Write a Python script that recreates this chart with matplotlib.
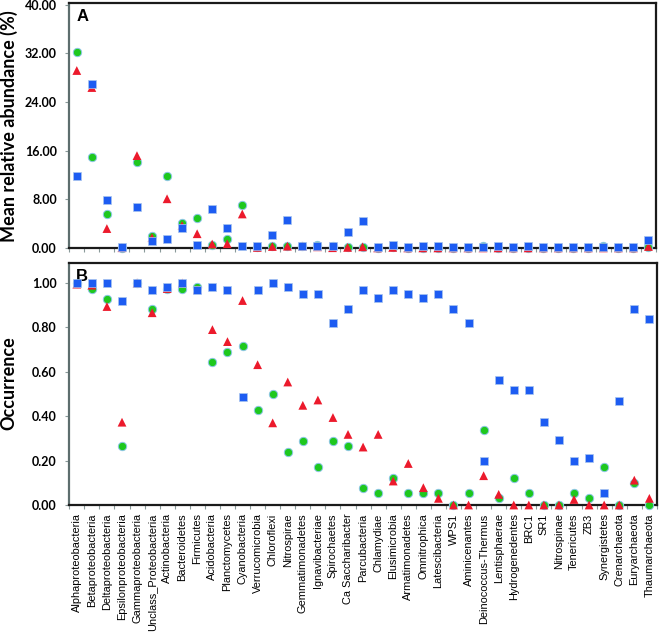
import numpy as np
import matplotlib.pyplot as plt
from matplotlib.ticker import FixedLocator

# 분류군 이름 (x축)
taxa = ["Alphaproteobacteria", "Betaproteobacteria", "Deltaproteobacteria",
        "Epsilonproteobacteria", "Gammaproteobacteria", "Unclass_Proteobacteria",
        "Actinobacteria", "Bacteroidetes", "Firmicutes", "Acidobacteria",
        "Planctomycetes", "Cyanobacteria", "Verrucomicrobia", "Chloroflexi",
        "Nitrospirae", "Gemmatimonadetes", "Ignavibacteriae", "Spirochaetes",
        "Ca Saccharibacter", "Parcubacteria", "Chlamydiae", "Elusimicrobia",
        "Armatimonadetes", "Omnitrophica", "Latescibacteria", "WPS1",
        "Aminicenantes", "Deinococcus-Thermus", "Lentisphaerae", "Hydrogenedentes",
        "BRC1", "SR1", "Nitrospinae", "Tenericutes", "ZB3", "Synergistetes",
        "Crenarchaeota", "Euryarchaeota", "Thaumarchaeota"]

# A: 평균 상대 풍부도 (%)
abund_green = [32.3, 15.0, 5.6, 0.05, 14.1, 1.9, 11.9, 4.1, 4.9, 0.5,
               1.4, 7.1, 0.1, 0.3, 0.3, 0.3, 0.5, 0.4, 0.2, 0.1,
               0.05, 0.1, 0.05, 0.05, 0.05, 0.05, 0.05, 0.3, 0.05, 0.05,
               0.05, 0.05, 0.05, 0.05, 0.05, 0.3, 0.05, 0.05, 0.1]
abund_red = [29.2, 26.4, 3.2, 0.05, 15.2, 1.7, 8.1, 3.7, 2.35, 0.65,
             0.7, 5.6, 0.1, 0.25, 0.3, 0.3, 0.2, 0.05, 0.1, 0.2,
             0.02, 0.1, 0.02, 0.02, 0.02, 0.02, 0.02, 0.02, 0.02, 0.02,
             0.02, 0.02, 0.02, 0.02, 0.02, 0.02, 0.02, 0.02, 0.25]
abund_blue = [11.8, 27.0, 7.9, 0.15, 6.7, 1.15, 1.5, 3.3, 0.45, 6.4,
              3.3, 0.3, 0.3, 2.2, 4.65, 0.3, 0.3, 0.3, 2.6, 4.5,
              0.15, 0.45, 0.15, 0.25, 0.25, 0.15, 0.15, 0.15, 0.3, 0.15,
              0.25, 0.15, 0.15, 0.15, 0.15, 0.15, 0.15, 0.15, 1.35]

# B: 출현 빈도
occ_green = [1.0, 0.973, 0.929, 0.265, 1.0, 0.882, 0.975, 0.973, 0.98, 0.643,
             0.69, 0.715, 0.43, 0.502, 0.24, 0.29, 0.17, 0.29, 0.265, 0.075,
             0.052, 0.123, 0.052, 0.052, 0.052, 0.0, 0.052, 0.336, 0.03, 0.123,
             0.052, 0.0, 0.0, 0.052, 0.03, 0.17, 0.0, 0.10, 0.0]
occ_red = [0.995, 0.99, 0.894, 0.373, 1.0, 0.866, 0.975, 1.0, 0.97, 0.79,
           0.736, 0.921, 0.632, 0.37, 0.554, 0.449, 0.473, 0.394, 0.318, 0.261,
           0.318, 0.108, 0.187, 0.078, 0.03, 0.0, 0.0, 0.132, 0.048, 0.0,
           0.0, 0.0, 0.0, 0.025, 0.0, 0.0, 0.0, 0.112, 0.03]
occ_blue = [1.0, 1.0, 1.0, 0.918, 1.0, 0.967, 0.982, 1.0, 0.967, 0.982,
            0.967, 0.485, 0.967, 1.0, 0.982, 0.951, 0.951, 0.822, 0.885, 0.967,
            0.934, 0.967, 0.951, 0.934, 0.951, 0.885, 0.822, 0.197, 0.564, 0.517,
            0.517, 0.373, 0.291, 0.197, 0.212, 0.052, 0.469, 0.885, 0.839]

x = np.arange(len(taxa))

green = '#1ec81e'
red = '#ec1a2c'
blue = '#1d5cf2'

fig = plt.figure(figsize=(6.61, 6.33), dpi=100)
axA = fig.add_axes([0.1048, 0.6082, 0.8876, 0.387])
axB = fig.add_axes([0.1048, 0.2022, 0.8890, 0.3823])


def draw(ax, g, r, b):
    ax.scatter(x, g, marker='o', s=36, color=green, edgecolors='#8ec6e6',
               linewidths=0.7, zorder=3, clip_on=False)
    ax.scatter(x, r, marker='^', s=40, color=red, edgecolors='none',
               zorder=4, clip_on=False)
    ax.scatter(x, b, marker='s', s=26, color=blue, edgecolors='#a9c4ee',
               linewidths=0.5, zorder=5, clip_on=False)
    ax.set_xlim(-0.5, len(taxa) - 0.5)
    ax.xaxis.set_major_locator(FixedLocator(x))
    ax.xaxis.set_minor_locator(FixedLocator(np.arange(len(taxa) + 1) - 0.5))
    ax.tick_params(axis='x', which='major', length=0)
    ax.tick_params(axis='x', which='minor', length=3, color='#8a9a9a', width=0.8)
    ax.tick_params(axis='y', length=3, color='#8a9a9a', width=0.8, pad=6)
    for side in ['top', 'right', 'bottom']:
        ax.spines[side].set_linewidth(1.6)
        ax.spines[side].set_color('#1a1a1a')
    ax.spines['left'].set_linewidth(1.6)
    ax.spines['left'].set_color('#5d6e6e')
    for lab in ax.get_yticklabels():
        lab.set_fontfamily('Lato')
        lab.set_fontweight('bold')
        lab.set_fontsize(9)


# 패널 A
axA.set_ylim(0, 40.3)
axA.set_yticks([0, 8, 16, 24, 32, 40])
axA.set_yticklabels(['0.00', '8.00', '16.00', '24.00', '32.00', '40.00'])
draw(axA, abund_green, abund_red, abund_blue)
axA.set_xticklabels([])
axA.text(0.012, 0.975, 'A', transform=axA.transAxes, ha='left', va='top',
         fontsize=12, fontweight='bold', fontfamily='Liberation Sans')

# 패널 B
axB.set_ylim(0, 1.09)
axB.set_yticks([0, 0.2, 0.4, 0.6, 0.8, 1.0])
axB.set_yticklabels(['0.00', '0.20', '0.40', '0.60', '0.80', '1.00'])
draw(axB, occ_green, occ_red, occ_blue)
axB.set_xticklabels(taxa, rotation=90, fontsize=7.9, fontfamily='Liberation Sans')
axB.tick_params(axis='x', which='major', pad=6)
axB.text(0.012, 0.975, 'B', transform=axB.transAxes, ha='left', va='top',
         fontsize=12, fontweight='bold', fontfamily='Liberation Sans')

fig.text(0.013, 0.800, 'Mean relative abundance (%)', rotation=90, ha='center',
         va='center', fontsize=13, fontweight='bold', fontfamily='Lato')
fig.text(0.013, 0.395, 'Occurrence', rotation=90, ha='center', va='center',
         fontsize=13, fontweight='bold', fontfamily='Lato')

fig.savefig('out.png', dpi=100)
